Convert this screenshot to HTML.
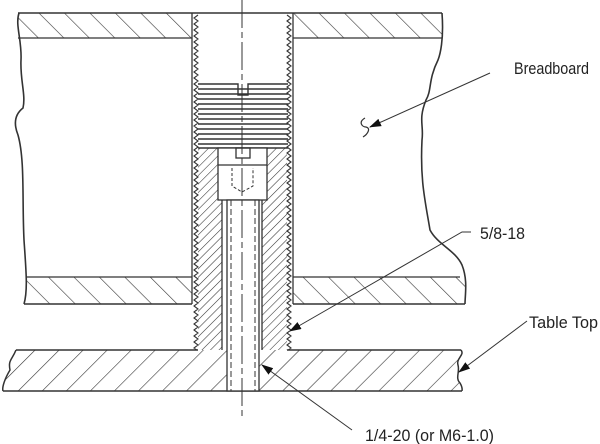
<!DOCTYPE html>
<html><head><style>body{margin:0;background:#fff}svg{display:block}text{font-family:"Liberation Sans Narrow","Liberation Sans",sans-serif;font-size:17px;fill:#222}</style></head><body>
<svg width="600" height="444" viewBox="0 0 600 444" xmlns="http://www.w3.org/2000/svg">
<defs>
<pattern id="hb" patternUnits="userSpaceOnUse" width="18" height="18" patternTransform="rotate(-45)"><line x1="0" y1="0" x2="0" y2="18" stroke="#333" stroke-width="1.2"/></pattern>
<pattern id="hf" patternUnits="userSpaceOnUse" width="17" height="17" patternTransform="rotate(45)"><line x1="0" y1="0" x2="0" y2="17" stroke="#333" stroke-width="1.2"/></pattern>
<pattern id="hs" patternUnits="userSpaceOnUse" width="6" height="6" patternTransform="rotate(45)"><line x1="0" y1="0" x2="0" y2="6" stroke="#333" stroke-width="1.1"/></pattern>
<marker id="ar" markerWidth="12" markerHeight="8" refX="11" refY="4" orient="auto" markerUnits="userSpaceOnUse"><path d="M0,0 L12,4 L0,8 Z" fill="#111"/></marker>
<clipPath id="cz"><rect x="0" y="0" width="600" height="350"/></clipPath>
</defs>
<g stroke="#333" fill="none" stroke-width="1.3">
<rect x="18" y="13" width="174" height="25" fill="url(#hb)" stroke="none"/>
<rect x="293" y="13" width="149" height="25" fill="url(#hb)" stroke="none"/>
<line x1="18" y1="13" x2="442" y2="13" stroke-width="1.6"/>
<line x1="18" y1="38" x2="192" y2="38"/><line x1="293" y1="38" x2="442" y2="38"/>
<rect x="26" y="277" width="166" height="27" fill="url(#hb)" stroke="none"/>
<rect x="293" y="277" width="172" height="27" fill="url(#hb)" stroke="none"/>
<line x1="26" y1="277" x2="192" y2="277"/><line x1="293" y1="277" x2="460" y2="277"/>
<line x1="24" y1="304" x2="192" y2="304" stroke-width="1.6"/><line x1="293" y1="304" x2="465" y2="304" stroke-width="1.6"/>
<path d="M19,13 C15,25 22,40 21,60 C20,80 26,95 23,108 C14,115 14,125 18,135 C25,160 22,200 24,240 C26,270 28,290 24,304" stroke-width="1.6"/>
<path d="M442,13 C444,40 440,55 438,60 C428,80 432,90 426,100 C418,120 424,125 422,140 C420,180 425,200 430,230 C438,245 455,250 462,265 C468,280 465,295 465,304" stroke-width="1.6"/>
<!-- table top -->
<path d="M16,350 H461 C465,355 456,358 458,365 C460,372 455,378 460,383 C463,388 462,390 462,391 H3 C2,388 4,380 10,370 C8,360 12,360 16,350 Z" fill="url(#hf)" stroke="none"/>
<line x1="16" y1="350" x2="198" y2="350" stroke-width="1.6"/>
<line x1="287" y1="350" x2="461" y2="350" stroke-width="1.6"/>
<line x1="3" y1="391" x2="462" y2="391" stroke-width="1.6"/>
<path d="M16,350 C12,360 8,360 10,370 C4,380 2,388 3,391" stroke-width="1.5"/>
<path d="M461,350 C465,355 456,358 458,365 C460,372 455,378 460,383 C463,388 462,390 462,391" stroke-width="1.5"/>
<line x1="192" y1="13" x2="192" y2="304"/><line x1="293" y1="13" x2="293" y2="304"/>
<rect x="198" y="148" width="24" height="202" fill="url(#hs)" stroke="none"/>
<rect x="262" y="148" width="25" height="202" fill="url(#hs)" stroke="none"/>
<line x1="222" y1="200" x2="222" y2="350"/><line x1="262" y1="200" x2="262" y2="350"/>
<g clip-path="url(#cz)">
<path id="zl" d="M198,15 l-4,3 l4,3 l-4,3 l4,3 l-4,3 l4,3 l-4,3 l4,3 l-4,3 l4,3 l-4,3 l4,3 l-4,3 l4,3 l-4,3 l4,3 l-4,3 l4,3 l-4,3 l4,3 l-4,3 l4,3 l-4,3 l4,3 l-4,3 l4,3 l-4,3 l4,3 l-4,3 l4,3 l-4,3 l4,3 l-4,3 l4,3 l-4,3 l4,3 l-4,3 l4,3 l-4,3 l4,3 l-4,3 l4,3 l-4,3 l4,3 l-4,3 l4,3 l-4,3 l4,3 l-4,3 l4,3 l-4,3 l4,3 l-4,3 l4,3 l-4,3 l4,3 l-4,3 l4,3 l-4,3 l4,3 l-4,3 l4,3 l-4,3 l4,3 l-4,3 l4,3 l-4,3 l4,3 l-4,3 l4,3 l-4,3 l4,3 l-4,3 l4,3 l-4,3 l4,3 l-4,3 l4,3 l-4,3 l4,3 l-4,3 l4,3 l-4,3 l4,3 l-4,3 l4,3 l-4,3 l4,3 l-4,3 l4,3 l-4,3 l4,3 l-4,3 l4,3 l-4,3 l4,3 l-4,3 l4,3 l-4,3 l4,3 l-4,3 l4,3 l-4,3 l4,3 l-4,3 l4,3 l-4,3 l4,3 l-4,3 l4,3 l-4,3 l4,3 l-4,3 l4,3 l-4,3 l4,3 l-4,3 l4,3 l-4,3 l4,3 l-4,3 l4,3 l-4,3 l4,3 l-4,3" stroke-width="1.1"/>
<use href="#zl" transform="translate(485,0) scale(-1,1)"/>
</g>
<g stroke-width="1.4">
<path d="M198,84 H238 V95 H248 V84 H288"/>
<line x1="198" y1="89" x2="288" y2="89"/><line x1="198" y1="94" x2="288" y2="94"/><line x1="198" y1="99" x2="288" y2="99"/><line x1="198" y1="104" x2="288" y2="104"/><line x1="198" y1="109" x2="288" y2="109"/><line x1="198" y1="114" x2="288" y2="114"/><line x1="198" y1="119" x2="288" y2="119"/><line x1="198" y1="124" x2="288" y2="124"/><line x1="198" y1="129" x2="288" y2="129"/><line x1="198" y1="134" x2="288" y2="134"/><line x1="198" y1="139" x2="288" y2="139"/><line x1="198" y1="144" x2="288" y2="144"/><line x1="198" y1="148" x2="288" y2="148"/>
</g>
<rect x="218" y="148" width="49" height="52" fill="#fff"/>
<rect x="236" y="148" width="14" height="10"/>
<line x1="218" y1="165" x2="267" y2="165"/>
<path d="M232,168 V186 L242,192 L253,186 V168" stroke-dasharray="3,2" stroke-width="1"/>
<rect x="227" y="200" width="32" height="191" fill="#fff"/>
<line x1="231" y1="200" x2="231" y2="391" stroke-dasharray="6,3" stroke-width="1"/>
<line x1="255" y1="200" x2="255" y2="391" stroke-dasharray="6,3" stroke-width="1"/>
<line x1="242" y1="0" x2="242" y2="420" stroke-width="1" stroke-dasharray="28,4,6,4"/>
<path d="M365,118 C358,122 362,127 366,127 C371,128 368,134 363,137" stroke-width="1.2"/>
<line x1="490" y1="73" x2="370" y2="127" stroke-width="1" marker-end="url(#ar)"/>
<path d="M471,232 H462 L290,331" stroke-width="1" marker-end="url(#ar)"/>
<line x1="527" y1="321" x2="459" y2="372" stroke-width="1" marker-end="url(#ar)"/>
<line x1="352" y1="430" x2="262" y2="365" stroke-width="1" marker-end="url(#ar)"/>
</g>
<text x="514" y="74" textLength="75" lengthAdjust="spacingAndGlyphs">Breadboard</text>
<text x="480" y="239" textLength="45" lengthAdjust="spacingAndGlyphs">5/8-18</text>
<text x="529" y="328" textLength="69" lengthAdjust="spacingAndGlyphs">Table Top</text>
<text x="365" y="441" textLength="129" lengthAdjust="spacingAndGlyphs">1/4-20 (or M6-1.0)</text>
</svg>
</body></html>
